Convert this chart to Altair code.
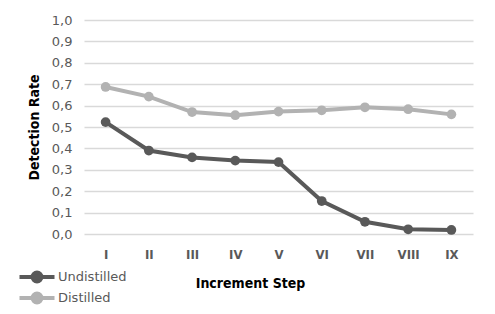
import altair as alt
import pandas as pd

steps = ["I", "II", "III", "IV", "V", "VI", "VII", "VIII", "IX"]
undistilled = [0.523, 0.390, 0.358, 0.343, 0.336, 0.154, 0.057, 0.022, 0.019]
distilled = [0.687, 0.642, 0.570, 0.555, 0.572, 0.578, 0.592, 0.583, 0.559]
series = ["Undistilled", "Distilled"]
colors = ["#595959", "#b2b2b2"]

rows = []
for name, vals in zip(series, [undistilled, distilled]):
    for s, v in zip(steps, vals):
        rows.append({"step": s, "rate": v, "series": name})
df = pd.DataFrame(rows)

cond = "DejaVu Sans Condensed, Liberation Sans Narrow, DejaVu Sans"

sym = "M-3.5,0H3.5M-0.9,0A0.9,0.9,0,1,0,0.9,0A0.9,0.9,0,1,0,-0.9,0Z"

base = alt.Chart(df).encode(
    x=alt.X(
        "step:N",
        sort=steps,
        scale=alt.Scale(type="point", padding=0.5),
        axis=alt.Axis(
            title="Increment Step",
            labelAngle=0,
            grid=False,
            ticks=False,
            domain=False,
            labelFont=cond,
            labelFontWeight="bold",
            labelFontSize=13,
            labelColor="#595959",
            labelPadding=14,
            titleFont=cond,
            titleFontWeight="bold",
            titleFontSize=14,
            titleColor="#000000",
            titleX=166,
            titleY=49,
            titleBaseline="middle",
            titleAlign="center",
        ),
    ),
    y=alt.Y(
        "rate:Q",
        scale=alt.Scale(domain=[0, 1]),
        axis=alt.Axis(
            title="Detection Rate",
            values=[i / 10 for i in range(11)],
            labelExpr="replace(format(datum.value, '.1f'), '.', ',')",
            ticks=False,
            domain=False,
            gridColor="#d9d9d9",
            gridWidth=1.5,
            labelFont="DejaVu Sans",
            labelFontSize=13,
            labelColor="#595959",
            labelPadding=12,
            titleFont=cond,
            titleFontWeight="bold",
            titleFontSize=14,
            titleColor="#000000",
            titleX=-50,
            titleY=107,
            titleBaseline="middle",
            titleAlign="center",
            titleAngle=-90,
        ),
    ),
    color=alt.Color(
        "series:N",
        sort=series,
        scale=alt.Scale(domain=series, range=colors),
        legend=alt.Legend(
            title=None,
            orient="none",
            legendX=-54,
            legendY=250,
            symbolType=sym,
            symbolSize=100,
            symbolStrokeWidth=4,
            labelOffset=14,
            labelFont="DejaVu Sans",
            labelFontSize=13,
            labelColor="#595959",
            rowPadding=-5,
        ),
    ),
)

line = base.mark_line(strokeWidth=4)
pts = base.mark_circle(size=95, opacity=1)

chart = (line + pts).properties(
    width=389,
    height=214,
    autosize=alt.AutoSizeParams(type="none"),
    padding={"left": 76, "top": 12, "right": 14, "bottom": 72},
).configure_view(stroke=None)

chart.save("out.html", embed_options={"renderer": "svg", "actions": False})
